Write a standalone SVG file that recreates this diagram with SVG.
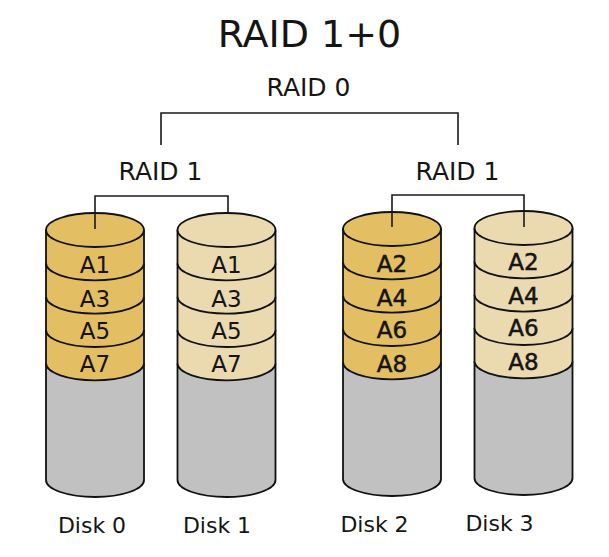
<svg xmlns="http://www.w3.org/2000/svg" xmlns:xlink="http://www.w3.org/1999/xlink" width="609" height="557" viewBox="0 0 609 557">
<style>
text{font-family:"DejaVu Sans","Liberation Sans",sans-serif;fill:#151515;text-anchor:middle}
.title{font-size:38px}
.lvl{font-size:25px}
.disklabel{font-size:22px}
.blk{font-size:23px}
.bold text{stroke:#151515;stroke-width:0.5}
.d path,.d use,.d ellipse{stroke:#111;stroke-width:1.8}
.gold{fill:#e4be62}
.pale{fill:#ebdab0}
.body{fill:#c1c1c1}
.conn{fill:none;stroke:#1a1a1a;stroke-width:1.6}
</style>
<defs>
<path id="band" d="M-49,0 V33.3 A49,17 0 0 0 49,33.3 V0"/>
</defs>
<rect width="609" height="557" fill="#ffffff"/>
<text class="title" x="309.5" y="47">RAID 1+0</text>
<text class="lvl" x="308.5" y="96">RAID 0</text>
<text class="lvl" x="160.5" y="180">RAID 1</text>
<text class="lvl" x="457.5" y="180">RAID 1</text>

<g id="disk0" class="d" transform="translate(95,0)">
<path class="body" d="M-49,363.3 V480 A49,17 0 0 0 49,480 V363.3"/>
<use xlink:href="#band" href="#band" y="330" class="gold"/>
<use xlink:href="#band" href="#band" y="296.7" class="gold"/>
<use xlink:href="#band" href="#band" y="263.3" class="gold"/>
<use xlink:href="#band" href="#band" y="230" class="gold"/>
<ellipse class="gold" cx="0" cy="230" rx="49" ry="17"/>
<g class="blk"><text x="0" y="272.7">A1</text><text x="0" y="306.5">A3</text><text x="0" y="338.5">A5</text><text x="0" y="371.5">A7</text></g>
</g>
<g id="disk1" class="d" transform="translate(226.5,0)">
<path class="body" d="M-49,363.3 V480 A49,17 0 0 0 49,480 V363.3"/>
<use xlink:href="#band" href="#band" y="330" class="pale"/>
<use xlink:href="#band" href="#band" y="296.7" class="pale"/>
<use xlink:href="#band" href="#band" y="263.3" class="pale"/>
<use xlink:href="#band" href="#band" y="230" class="pale"/>
<ellipse class="pale" cx="0" cy="230" rx="49" ry="17"/>
<g class="blk"><text x="0" y="272.7">A1</text><text x="0" y="306.5">A3</text><text x="0" y="338.5">A5</text><text x="0" y="371.5">A7</text></g>
</g>
<g id="disk2" class="d bold" transform="translate(392,-1)">
<path class="body" d="M-49,363.3 V480 A49,17 0 0 0 49,480 V363.3"/>
<use xlink:href="#band" href="#band" y="330" class="gold"/>
<use xlink:href="#band" href="#band" y="296.7" class="gold"/>
<use xlink:href="#band" href="#band" y="263.3" class="gold"/>
<use xlink:href="#band" href="#band" y="230" class="gold"/>
<ellipse class="gold" cx="0" cy="230" rx="49" ry="17"/>
<g class="blk"><text x="0" y="272.7">A2</text><text x="0" y="306.5">A4</text><text x="0" y="339">A6</text><text x="0" y="372.5">A8</text></g>
</g>
<g id="disk3" class="d bold" transform="translate(523.5,-2)">
<path class="body" d="M-49,363.3 V480 A49,17 0 0 0 49,480 V363.3"/>
<use xlink:href="#band" href="#band" y="330" class="pale"/>
<use xlink:href="#band" href="#band" y="296.7" class="pale"/>
<use xlink:href="#band" href="#band" y="263.3" class="pale"/>
<use xlink:href="#band" href="#band" y="230" class="pale"/>
<ellipse class="pale" cx="0" cy="230" rx="49" ry="17"/>
<g class="blk"><text x="0" y="272">A2</text><text x="0" y="305.5">A4</text><text x="0" y="338">A6</text><text x="0" y="371.5">A8</text></g>
</g>

<g class="disklabel">
<text x="92" y="533">Disk 0</text>
<text x="217" y="533">Disk 1</text>
<text x="374.5" y="532">Disk 2</text>
<text x="499.5" y="531">Disk 3</text>
</g>

<g id="connectors" class="conn">
<path d="M161,145 V113 H458 V145"/>
<path d="M95,229 V196 H228 V213"/>
<path d="M392,227 V195 H524 V227"/>
</g>
</svg>
